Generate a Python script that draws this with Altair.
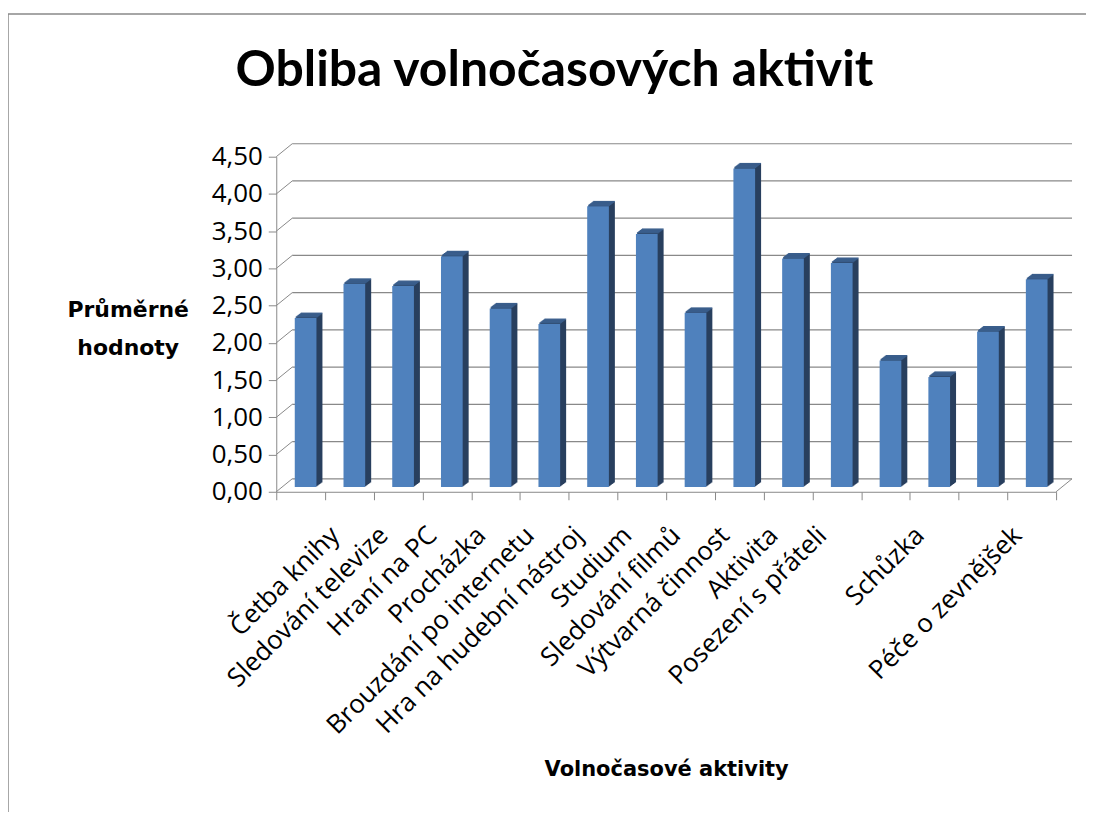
import json
import altair as alt
import pandas as pd

# ---------------- data ----------------
categories = [
    "Četba knihy", "Sledování televize", "Hraní na PC", "Procházka",
    "Brouzdání po internetu", "Hra na hudební nástroj", "Studium",
    "Sledování filmů", "Výtvarná činnost", "Aktivita",
    "Posezení s přáteli", "Sport", "Schůzka", "Nakupování",
    "Péče o zevnějšek", "Spánek",
]
values = [2.27, 2.73, 2.70, 3.10, 2.40, 2.19, 3.77, 3.40,
          2.34, 4.28, 3.07, 3.01, 1.70, 1.48, 2.09, 2.79]
hidden_labels = ["Sport", "Nakupování", "Spánek"]
y_ticks = [0.0, 0.5, 1.0, 1.5, 2.0, 2.5, 3.0, 3.5, 4.0, 4.5]

chart_title = "Obliba volnočasových aktivit"
x_title = "Volnočasové aktivity"
y_title = ["Průměrné", "hodnoty"]

# ---------------- style ----------------
W, H = 782, 336
GRAY = "#898989"
FRONT = "#4f81bd"
SIDE = "#283f5e"
TOP = "#3a5e8c"
DEPTH_X, DEPTH_Y = 16, 13        # back wall offset
BAR_DX, BAR_DY = 5, 4.7          # bar front-face offset (middle depth)
STEPS = 6                        # bar depth steps
STEP_X, STEP_Y = 1.0, 0.75

bars = pd.DataFrame({"cat": categories, "v": values})
grid = pd.DataFrame({"t": y_ticks})

xs = alt.Scale(domain=categories, paddingInner=0, paddingOuter=0)
ys = alt.Scale(domain=[0, 4.5], nice=False, zero=True)

label_expr = ("indexof(%s, datum.label) >= 0 ? '' : datum.label"
              % json.dumps(hidden_labels, ensure_ascii=False))

x_axis = alt.Axis(
    labelAngle=-45, labelAlign="right", labelBaseline="top",
    labelOffset=25, labelPadding=22, labelLimit=500, labelOverlap=False,
    tickBand="extent", tickSize=8, tickColor=GRAY, domainColor=GRAY,
    labelFont="Open Sans", labelFontSize=26, labelColor="black",
    labelExpr=label_expr, grid=False,
    title=x_title, titleFont="DejaVu Sans", titleFontWeight="bold",
    titleFontSize=21, titleColor="black", titleY=285,
    titleBaseline="alphabetic",
)
y_axis = alt.Axis(
    values=y_ticks, labelExpr="replace(format(datum.value, '.2f'), '.', ',')",
    tickSize=8, tickColor=GRAY, domainColor=GRAY, labelPadding=6,
    labelFont="Open Sans", labelFontSize=26, labelColor="black", grid=False,
    title=y_title, titleAngle=0, titleAlign="center",
    titleBaseline="alphabetic", titleX=-149, titleY=160, titleLineHeight=38,
    titleFont="DejaVu Sans", titleFontWeight="bold", titleFontSize=22,
    titleColor="black",
)

X = alt.X("cat:N", scale=xs, sort=categories, axis=x_axis)
Yv = alt.Y("v:Q", scale=ys, axis=y_axis)
Yt = alt.Y("t:Q", scale=ys, axis=y_axis)

# back wall gridlines
back_grid = alt.Chart(grid).mark_rule(color=GRAY, strokeWidth=1.2, yOffset=-DEPTH_Y).encode(
    y=Yt, x=alt.value(DEPTH_X), x2=alt.value(W + DEPTH_X))
# diagonal lines on the left side wall
side_grid = alt.Chart(grid).mark_rule(color=GRAY, strokeWidth=1, y2Offset=-DEPTH_Y).encode(
    y=Yt, y2=alt.Y2("t:Q"), x=alt.value(0), x2=alt.value(DEPTH_X))
# floor right edge
floor_edge = alt.Chart(grid.head(1)).mark_rule(color=GRAY, strokeWidth=1, y2Offset=-DEPTH_Y).encode(
    y=Yt, y2=alt.Y2("t:Q"), x=alt.value(W), x2=alt.value(W + DEPTH_X))

# outer chart frame (top and left borders)
frame_top = alt.Chart(grid.head(1)).mark_rule(color=GRAY, strokeWidth=1.5).encode(
    x=alt.value(-269), x2=alt.value(W + 40), y=alt.value(-143))
frame_left = alt.Chart(grid.head(1)).mark_rule(color=GRAY, strokeWidth=1.5).encode(
    x=alt.value(-269), y=alt.value(-143), y2=alt.value(H + 340))

layers = [back_grid, side_grid, floor_edge, frame_top, frame_left]

bw = alt.RelativeBandSize(0.445)
for i in range(1, STEPS + 1):
    dx = BAR_DX + STEP_X * i
    dy = -BAR_DY - STEP_Y * i
    layers.append(alt.Chart(bars).mark_bar(
        color=SIDE, width=bw, xOffset=dx, yOffset=dy, y2Offset=dy).encode(x=X, y=Yv))
for i in range(1, STEPS + 1):
    dx = BAR_DX + STEP_X * i
    dy = -BAR_DY - STEP_Y * i
    layers.append(alt.Chart(bars).mark_bar(
        color=TOP, width=bw, xOffset=dx, yOffset=dy - 1.0, y2Offset=dy + 0.3).encode(
        x=X, y=Yv, y2=alt.Y2("v:Q")))
layers.append(alt.Chart(bars).mark_bar(
    color=FRONT, width=bw, xOffset=BAR_DX, yOffset=-BAR_DY, y2Offset=-BAR_DY).encode(x=X, y=Yv))

chart = alt.layer(*layers).properties(
    width=W, height=H,
    title=alt.TitleParams(
        text=chart_title, font="Lato", fontSize=50, fontWeight="bold",
        color="black", anchor="middle", frame="group", dx=-112, offset=-123,
        baseline="alphabetic"),
    padding={"left": 269, "top": 148, "right": 30, "bottom": 320},
    autosize=alt.AutoSizeParams(type="none"),
).configure(background="white").configure_view(stroke=None)

chart.save("out.html", embed_options={"renderer": "svg", "actions": False})
